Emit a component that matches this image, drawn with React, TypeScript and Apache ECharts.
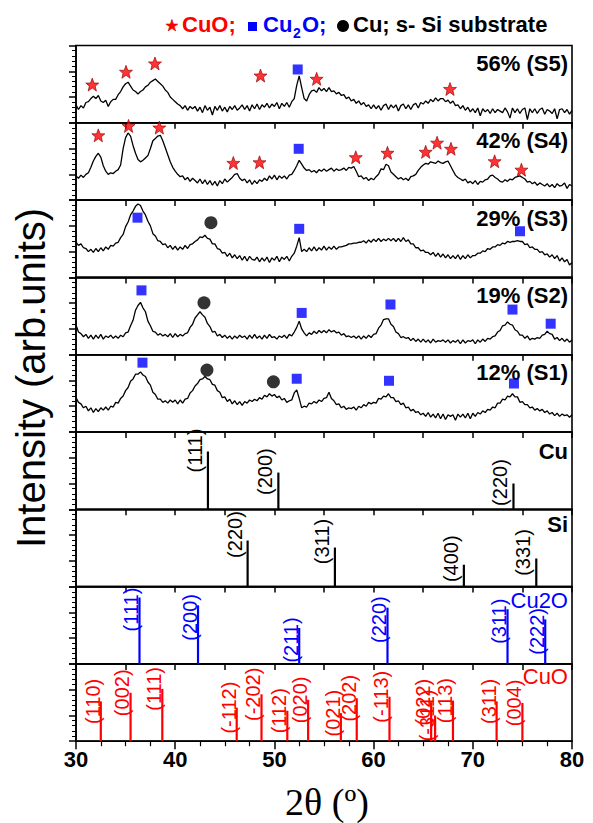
import React, { useEffect, useRef } from "react";
import * as echarts from "echarts";

// 2θ grid of the measured patterns: 30° to 80°, 0.25° step
const THETA_START = 30;
const THETA_STEP = 0.25;

// Intensity (arb. units, 0-100 of each panel)
const s5 = [
  23, 17, 22, 19, 26, 27, 31, 34, 31, 35, 28, 26, 29, 21, 27, 30, 30, 36, 40, 46,
  50, 52, 47, 42, 40, 37, 40, 42, 46, 48, 52, 54, 56, 53, 50, 47, 42, 39, 33, 30,
  27, 24, 22, 18, 22, 16, 21, 18, 21, 15, 20, 13, 22, 16, 20, 10, 21, 16, 22, 15,
  20, 14, 21, 17, 22, 16, 19, 23, 17, 22, 15, 23, 18, 24, 17, 23, 20, 25, 19, 24,
  21, 26, 18, 25, 21, 26, 20, 27, 31, 48, 60, 45, 31, 28, 36, 41, 42, 39, 45, 41,
  44, 40, 45, 40, 41, 37, 39, 35, 36, 31, 33, 28, 30, 25, 28, 23, 26, 21, 23, 18,
  23, 18, 22, 16, 22, 24, 17, 23, 19, 23, 15, 22, 24, 18, 23, 17, 23, 25, 19, 26,
  24, 28, 25, 30, 27, 32, 28, 31, 31, 27, 29, 25, 28, 22, 23, 18, 22, 16, 20, 14,
  18, 13, 19, 9, 18, 14, 17, 12, 18, 13, 17, 15, 13, 19, 14, 6, 19, 13, 18, 12,
  17, 19, 4, 18, 13, 18, 12, 17, 19, 11, 17, 15, 12, 18, 5, 17, 18, 13, 17, 11,
  16,
];
const s4 = [
  31, 28, 32, 29, 33, 35, 42, 50, 56, 60, 55, 44, 37, 33, 35, 34, 37, 39, 45, 66,
  80, 86, 82, 70, 60, 52, 49, 51, 54, 57, 66, 76, 79, 82, 83, 76, 67, 58, 49, 42,
  37, 33, 30, 31, 26, 29, 24, 28, 25, 22, 27, 21, 26, 20, 25, 19, 24, 18, 25, 21,
  27, 23, 26, 29, 33, 34, 28, 25, 27, 22, 26, 20, 25, 21, 26, 24, 28, 25, 31, 27,
  32, 26, 31, 28, 31, 27, 32, 33, 38, 44, 51, 46, 41, 38, 39, 36, 38, 35, 39, 37,
  40, 37, 39, 41, 37, 40, 38, 39, 41, 38, 42, 41, 43, 37, 30, 31, 27, 29, 25, 28,
  26, 30, 33, 40, 39, 46, 44, 36, 33, 30, 27, 29, 26, 28, 25, 30, 31, 33, 38, 42,
  45, 47, 46, 49, 48, 47, 50, 48, 47, 49, 50, 44, 38, 32, 29, 27, 25, 27, 22, 24,
  21, 25, 20, 24, 23, 26, 27, 31, 32, 29, 27, 24, 23, 26, 24, 27, 26, 29, 30, 31,
  29, 27, 23, 24, 21, 23, 19, 22, 20, 18, 21, 17, 20, 16, 21, 18, 19, 22, 15, 20,
  18,
];
const s3 = [
  45, 41, 43, 38, 37, 33, 36, 32, 37, 33, 38, 34, 39, 36, 41, 40, 44, 45, 51, 55,
  65, 71, 80, 85, 91, 94, 92, 85, 80, 72, 66, 56, 53, 47, 46, 42, 43, 38, 41, 36,
  40, 35, 39, 36, 41, 37, 42, 43, 46, 48, 52, 51, 54, 50, 49, 43, 43, 37, 36, 31,
  32, 27, 31, 25, 29, 24, 28, 22, 27, 21, 27, 23, 22, 26, 20, 25, 21, 26, 19, 25,
  22, 27, 20, 26, 23, 27, 21, 27, 31, 40, 51, 33, 36, 33, 38, 34, 39, 34, 38, 35,
  40, 35, 39, 36, 40, 36, 39, 39, 40, 41, 43, 43, 44, 44, 45, 45, 47, 44, 48, 45,
  49, 46, 50, 46, 49, 47, 50, 47, 50, 46, 50, 46, 51, 46, 48, 43, 43, 38, 38, 34,
  35, 32, 32, 29, 32, 27, 31, 26, 30, 25, 29, 24, 28, 24, 29, 23, 28, 24, 29, 25,
  28, 28, 31, 31, 34, 33, 37, 36, 39, 39, 42, 41, 44, 43, 46, 45, 46, 46, 47, 46,
  46, 42, 43, 38, 39, 36, 36, 32, 33, 29, 30, 26, 29, 24, 28, 21, 25, 20, 23, 16,
  19,
];
const s2 = [
  38, 29, 27, 23, 26, 21, 25, 20, 25, 21, 26, 20, 24, 22, 25, 21, 24, 21, 25, 23,
  28, 29, 37, 44, 57, 63, 67, 60, 55, 43, 37, 30, 29, 25, 27, 24, 26, 23, 27, 22,
  27, 23, 26, 24, 27, 28, 35, 39, 47, 51, 55, 51, 48, 40, 36, 29, 30, 24, 26, 22,
  25, 21, 24, 20, 24, 21, 25, 22, 24, 20, 25, 21, 26, 21, 24, 20, 25, 21, 26, 22,
  23, 20, 24, 22, 25, 21, 26, 24, 29, 35, 43, 33, 28, 24, 28, 26, 30, 27, 31, 28,
  31, 28, 32, 29, 31, 28, 29, 25, 27, 23, 24, 22, 24, 21, 24, 20, 24, 21, 25, 22,
  26, 27, 34, 38, 45, 46, 46, 39, 36, 29, 27, 22, 23, 21, 22, 18, 21, 17, 20, 16,
  20, 16, 19, 15, 20, 16, 18, 17, 19, 16, 19, 15, 18, 16, 19, 14, 19, 15, 18, 17,
  19, 14, 19, 16, 20, 17, 21, 20, 23, 24, 29, 31, 37, 38, 42, 39, 38, 32, 30, 25,
  25, 21, 24, 19, 21, 20, 22, 21, 25, 26, 30, 27, 26, 20, 22, 18, 21, 17, 20, 16,
  19,
];
const s1 = [
  44, 38, 36, 31, 33, 27, 31, 25, 30, 26, 31, 28, 32, 28, 33, 32, 38, 37, 43, 46,
  53, 57, 65, 68, 74, 74, 77, 73, 71, 64, 60, 51, 48, 42, 42, 38, 40, 37, 41, 38,
  41, 36, 41, 37, 42, 43, 50, 53, 59, 62, 67, 68, 71, 68, 67, 61, 60, 53, 51, 44,
  45, 39, 42, 36, 40, 35, 39, 34, 39, 37, 41, 39, 42, 40, 44, 42, 47, 45, 49, 46,
  48, 44, 46, 41, 43, 38, 40, 41, 50, 54, 43, 31, 33, 32, 37, 36, 39, 37, 41, 39,
  43, 44, 51, 43, 40, 35, 36, 31, 33, 29, 31, 30, 32, 28, 33, 31, 35, 33, 38, 36,
  38, 37, 43, 42, 46, 45, 49, 44, 44, 39, 40, 35, 37, 31, 32, 27, 29, 25, 26, 22,
  24, 20, 25, 19, 23, 18, 24, 17, 23, 16, 22, 20, 22, 15, 23, 19, 23, 18, 24, 17,
  24, 20, 25, 23, 27, 25, 29, 28, 32, 31, 37, 37, 42, 41, 46, 45, 49, 45, 45, 38,
  39, 35, 35, 31, 32, 28, 30, 27, 29, 25, 27, 23, 25, 21, 24, 20, 23, 21, 22, 19,
  22,
];
const samples = [s5, s4, s3, s2, s1];
const sampleNames = ["56% (S5)", "42% (S4)", "29% (S3)", "19% (S2)", "12% (S1)"];

// phase markers [2θ, height]
const s5Stars = [[31.64, 48.9], [35.04, 65.3], [37.96, 76], [48.6, 60.5], [54.26, 56.3], [67.7, 43.3]];
const s5Squares = [[52.35, 68.3]];
const s4Stars = [[32.25, 82.9], [35.3, 95], [38.4, 92.9], [45.86, 47.6], [48.5, 48.4], [58.2, 54.9], [61.4, 60.5], [65.25, 61.8], [66.4, 73.5], [67.8, 65.7], [72.2, 49.7], [74.9, 38.9]];
const s4Squares = [[52.45, 65.7]];
const s3Squares = [[36.2, 76.5], [52.5, 62.2], [74.76, 59.1]];
const s3Circles = [[43.6, 70]];
const s2Squares = [[36.6, 82.4], [52.75, 53.5], [61.7, 64.3], [74, 57.8], [77.85, 39.7]];
const s2Circles = [[42.9, 66.5]];
const s1Squares = [[36.7, 88.8], [52.25, 68.2], [61.55, 65.6], [74.15, 62.1]];
const s1Circles = [[43.2, 79.3], [49.9, 64.3]];
const markerStars = [s5Stars, s4Stars, [], [], []];
const markerSquares = [s5Squares, s4Squares, s3Squares, s2Squares, s1Squares];
const markerCircles = [[], [], s3Circles, s2Circles, s1Circles];

// reference stick patterns
const cuPos = [43.3, 50.4, 74.1];
const cuInt = [74, 47, 33];
const cuHkl = ["(111)", "(200)", "(220)"];
const siPos = [47.3, 56.1, 69.1, 76.4];
const siInt = [59, 50, 28, 36];
const siHkl = ["(220)", "(311)", "(400)", "(331)"];
const cu2oPos = [36.4, 42.3, 52.5, 61.4, 73.5, 77.3];
const cu2oInt = [85, 75, 46, 72, 70, 57];
const cu2oHkl = ["(111)", "(200)", "(211)", "(220)", "(311)", "(222)"];
const cuoPos = [32.5, 35.5, 38.7, 46.2, 48.7, 51.3, 53.4, 56.7, 58.3, 61.6, 65.8, 66.2, 68.0, 72.4, 75.0];
const cuoInt = [51, 62, 67, 43, 60, 39, 53, 36, 55, 57, 50, 33, 52, 51, 49];
const cuoHkl = ["(110)", "(002)", "(111)", "(-112)", "(-202)", "(112)", "(020)", "(021)", "(202)", "(-113)", "(022)", "(-311)", "(113)", "(311)", "(004)"];

const xTicks = [30, 40, 50, 60, 70, 80];

const RED = "#ff0000";
const BLUE = "#0000ff";
const FONT = '"Liberation Sans", Arial, sans-serif';
const STAR = "path://M12,1 L15,9 L23,9 L17,14 L19,22 L12,17 L5,22 L7,14 L1,9 L9,9 Z";

const TOP = 45.5;
const PH = 77.3;
const LEFT = 76;
const RIGHT_PX = 572;

export default function App() {
  const ref = useRef<HTMLDivElement>(null);
  useEffect(() => {
    if (!ref.current) return;
    const chart = echarts.init(ref.current, undefined, { renderer: "svg" });
    const n = 9;
    const grids: any[] = [];
    const xAxes: any[] = [];
    const yAxes: any[] = [];
    for (let i = 0; i < n; i++) {
      grids.push({
        left: LEFT, right: 593 - RIGHT_PX, top: TOP + i * PH, height: PH,
        show: true, borderColor: "#000", borderWidth: 1.6, backgroundColor: "transparent",
      });
      const last = i === n - 1;
      xAxes.push({
        type: "value", gridIndex: i, min: 30, max: 80, interval: last ? 10 : 5,
        axisLine: { show: true, onZero: false, lineStyle: { color: "#000", width: 1.6 } },
        axisTick: { show: true, inside: false, length: last ? 8 : 6, lineStyle: { color: "#000", width: 1.5 } },
        minorTick: { show: last, splitNumber: 4, length: 5, lineStyle: { color: "#000", width: 1.2 } },
        axisLabel: last
          ? { show: true, fontSize: 22, fontWeight: "bold", color: "#000", fontFamily: FONT, margin: 7,
              formatter: (v: number) => (xTicks.includes(v) ? String(v) : "") }
          : { show: false },
        splitLine: { show: false },
      });
      yAxes.push({
        type: "value", gridIndex: i, min: 0, max: 99, interval: 33,
        axisLine: { show: true, lineStyle: { color: "#000", width: 1.6 } },
        axisTick: { show: true, inside: false, length: 7, lineStyle: { color: "#000", width: 1.5 } },
        minorTick: { show: true, splitNumber: 5, length: 4, lineStyle: { color: "#000", width: 1 } },
        axisLabel: { show: false },
        splitLine: { show: false },
      });
    }

    const series: any[] = [];
    samples.forEach((vals, i) => {
      series.push({
        type: "line", xAxisIndex: i, yAxisIndex: i, symbol: "none", silent: true,
        lineStyle: { color: "#000", width: 1.3 },
        data: vals.map((v, k) => [THETA_START + k * THETA_STEP, v]),
      });
      if (markerStars[i].length)
        series.push({ type: "scatter", xAxisIndex: i, yAxisIndex: i, clip: false, symbol: STAR, symbolSize: 13,
          itemStyle: { color: RED, borderColor: "#8a0000", borderWidth: 0.8 }, data: markerStars[i] });
      if (markerSquares[i].length)
        series.push({ type: "scatter", xAxisIndex: i, yAxisIndex: i, clip: false, symbol: "rect", symbolSize: 10,
          itemStyle: { color: BLUE }, data: markerSquares[i] });
      if (markerCircles[i].length)
        series.push({ type: "scatter", xAxisIndex: i, yAxisIndex: i, clip: false, symbol: "circle", symbolSize: 13,
          itemStyle: { color: "#000" }, data: markerCircles[i] });
    });

    const sticks = [
      { pos: cuPos, int: cuInt, hkl: cuHkl, color: "#000", dx: -12, dy: -1 },
      { pos: siPos, int: siInt, hkl: siHkl, color: "#000", dx: -12, dy: -6 },
      { pos: cu2oPos, int: cu2oInt, hkl: cu2oHkl, color: BLUE, dx: -7, dy: 12 },
      { pos: cuoPos, int: cuoInt, hkl: cuoHkl, color: RED, dx: -7, dy: 0 },
    ];
    sticks.forEach((s, j) => {
      const gi = 5 + j;
      series.push({
        type: "bar", xAxisIndex: gi, yAxisIndex: gi, barWidth: 2.2, silent: true,
        itemStyle: { color: s.color },
        label: {
          show: true, rotate: 90, position: [s.dx, s.dy], align: "center", verticalAlign: "middle",
          fontSize: 20, fontFamily: FONT, color: s.color,
          formatter: (p: any) => s.hkl[p.dataIndex],
        },
        data: s.pos.map((x, k) => [x, s.int[k]]),
      });
    });

    const graphics: any[] = [];
    sampleNames.forEach((t, i) => {
      graphics.push({ type: "text", x: 568, y: TOP + i * PH + 18,
        style: { text: t, font: `bold 22px ${FONT}`, fill: "#000", align: "right", textAlign: "right", verticalAlign: "middle", textVerticalAlign: "middle" } });
    });
    const refLabels = [
      { t: "Cu", dy: 19.5, c: "#000", w: "bold" },
      { t: "Si", dy: 15, c: "#000", w: "bold" },
      { t: "Cu2O", dy: 13.5, c: BLUE, w: "normal" },
      { t: "CuO", dy: 13, c: RED, w: "normal" },
    ];
    refLabels.forEach((r, j) => {
      graphics.push({ type: "text", x: 568, y: TOP + (5 + j) * PH + r.dy,
        style: { text: r.t, font: `${r.w} 22px ${FONT}`, fill: r.c, align: "right", textAlign: "right", verticalAlign: "middle", textVerticalAlign: "middle" } });
    });
    // legend line at the top
    const ly = 24;
    const lfont = `bold 22px ${FONT}`;
    graphics.push({ type: "text", x: 172, y: ly + 1, style: { text: "★", font: `16px "DejaVu Sans"`, fill: RED, stroke: "#8a0000", lineWidth: 0.5, align: "center", textAlign: "center", verticalAlign: "middle", textVerticalAlign: "middle" } });
    graphics.push({ type: "text", x: 182, y: ly, style: { text: "CuO;", font: lfont, fill: RED, align: "left", textAlign: "left", verticalAlign: "middle", textVerticalAlign: "middle" } });
    graphics.push({ type: "rect", shape: { x: 248, y: ly - 2, width: 9, height: 9 }, style: { fill: BLUE } });
    graphics.push({ type: "text", x: 263, y: ly, style: { text: "Cu", font: lfont, fill: BLUE, align: "left", textAlign: "left", verticalAlign: "middle", textVerticalAlign: "middle" } });
    graphics.push({ type: "text", x: 293, y: ly + 9, style: { text: "2", font: `bold 14px ${FONT}`, fill: BLUE, align: "left", textAlign: "left", verticalAlign: "middle", textVerticalAlign: "middle" } });
    graphics.push({ type: "text", x: 302, y: ly, style: { text: "O;", font: lfont, fill: BLUE, align: "left", textAlign: "left", verticalAlign: "middle", textVerticalAlign: "middle" } });
    graphics.push({ type: "circle", shape: { cx: 343, cy: ly + 2, r: 6 }, style: { fill: "#000" } });
    graphics.push({ type: "text", x: 353, y: ly, style: { text: "Cu; s- Si substrate", font: lfont, fill: "#000", align: "left", textAlign: "left", verticalAlign: "middle", textVerticalAlign: "middle" } });
    // axis titles
    graphics.push({ type: "text", x: 31, y: 378, rotation: Math.PI / 2,
      style: { text: "Intensity (arb.units)", font: `40px ${FONT}`, fill: "#000", align: "center", textAlign: "center", verticalAlign: "middle", textVerticalAlign: "middle" } });
    graphics.push({ type: "text", x: 327, y: 802,
      style: { text: "2θ (º)", font: `38px "Liberation Serif", "Times New Roman", serif`, fill: "#000", align: "center", textAlign: "center", verticalAlign: "middle", textVerticalAlign: "middle" } });

    chart.setOption({
      animation: false,
      backgroundColor: "#fff",
      grid: grids,
      xAxis: xAxes,
      yAxis: yAxes,
      series,
      graphic: { elements: graphics },
    });
    return () => chart.dispose();
  }, []);
  return <div ref={ref} style={{ position: "absolute", left: 0, top: 0, width: 593, height: 823 }} />;
}
